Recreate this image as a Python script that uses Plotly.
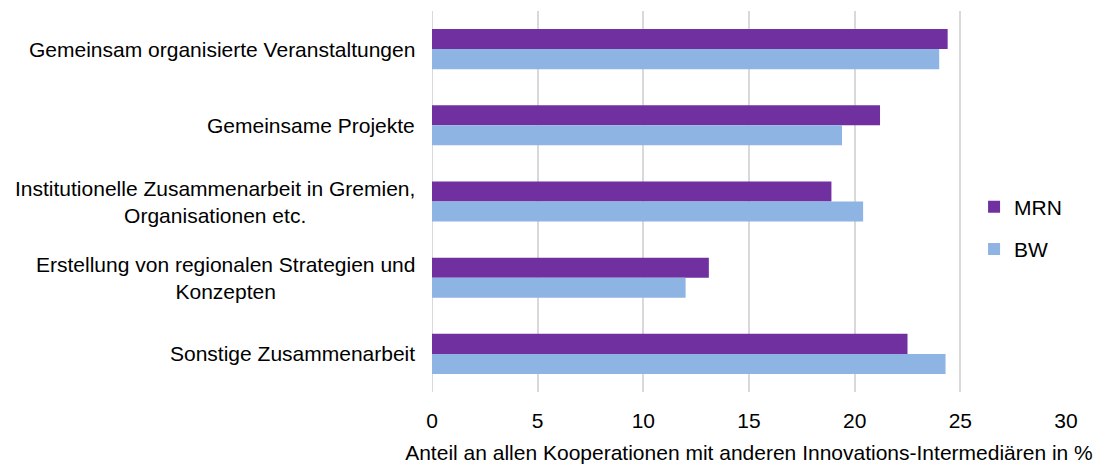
import plotly.graph_objects as go

categories = [
    "Gemeinsam organisierte Veranstaltungen",
    "Gemeinsame Projekte",
    "Institutionelle Zusammenarbeit in Gremien,<br>Organisationen etc.",
    "Erstellung von regionalen Strategien und<br>Konzepten",
    "Sonstige Zusammenarbeit",
]
mrn = [24.4, 21.2, 18.9, 13.1, 22.5]
bw = [24.0, 19.4, 20.4, 12.0, 24.3]
x_ticks = [0, 5, 10, 15, 20, 25, 30]
x_title = "Anteil an allen Kooperationen mit anderen Innovations-Intermediären in %"

FONT = "Liberation Sans, Arial, sans-serif"
FS = 21

fig = go.Figure()
fig.add_trace(go.Bar(y=categories, x=mrn, name="MRN", orientation="h",
                     marker=dict(color="#7030A0", line=dict(width=0)),
                     legendgroup="a"))
fig.add_trace(go.Bar(y=categories, x=bw, name="BW", orientation="h",
                     marker=dict(color="#8EB4E3", line=dict(width=0)),
                     legendgroup="b"))

# category labels, centred line by line and right-anchored next to the axis
for c in categories:
    fig.add_annotation(x=0, xref="paper", y=c, yref="y", text=c,
                       xanchor="right", yanchor="middle", align="center",
                       xshift=-15, showarrow=False,
                       font=dict(family=FONT, size=FS, color="#000000"))

fig.update_layout(
    width=1103, height=464,
    margin=dict(l=432, r=37, t=11, b=72, autoexpand=False),
    paper_bgcolor="white", plot_bgcolor="white",
    barmode="group", bargap=0.474, bargroupgap=0,
    font=dict(family=FONT, size=FS, color="#000000"),
    showlegend=True,
    legend=dict(x=0.855, y=0.43, xanchor="left", yanchor="middle",
                traceorder="grouped", tracegroupgap=12,
                bgcolor="rgba(0,0,0,0)",
                font=dict(family=FONT, size=FS)),
    xaxis=dict(range=[0, 30], tickvals=x_ticks, showgrid=True,
               gridcolor="#D9D9D9", gridwidth=2, zeroline=False,
               showline=False, ticks="", ticklabelstandoff=14,
               automargin=False,
               title=dict(text=x_title, standoff=14,
                          font=dict(family=FONT, size=FS))),
    yaxis=dict(autorange="reversed", showticklabels=False, showgrid=False,
               zeroline=False, showline=False, ticks="", automargin=False),
)
fig.add_vline(x=0, line=dict(color="#D9D9D9", width=2), layer="below")

fig.write_html("out.html")
